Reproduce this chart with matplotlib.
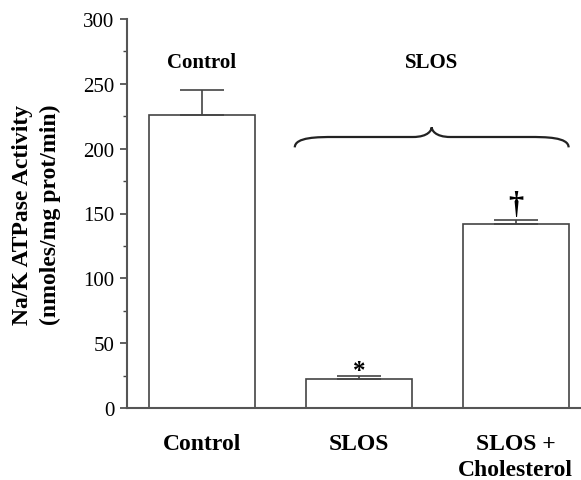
import matplotlib
matplotlib.use("Agg")
import matplotlib.pyplot as plt
from matplotlib.path import Path
from matplotlib.patches import PathPatch
import numpy as np

categories = ["Control", "SLOS", "SLOS +\nCholesterol"]
values = [226, 22, 142]
errors = [19, 2.5, 3]
marks = ["", "*", "\u2020"]
group_labels = ["Control", "SLOS"]

plt.rcParams['font.family'] = ['Liberation Serif', 'DejaVu Serif']

fig = plt.figure(figsize=(5.81, 4.81), dpi=100)
ax = fig.add_axes([127/581, (481-409)/481, (581-127)/581, (409-20)/481])

x = np.arange(len(categories))
edge = '#444444'
ax.bar(x, values, width=0.675, color='white', edgecolor=edge, linewidth=1.2, zorder=2)
ax.errorbar(x, values, yerr=[np.zeros(len(errors)), errors], fmt='none',
            ecolor=edge, elinewidth=1.2, capsize=16, capthick=1.2, zorder=3)

ax.set_xlim(-0.478, 2.417)
ax.set_ylim(0, 300)
ax.set_yticks(np.arange(0, 301, 50))
ax.set_yticks(np.arange(25, 300, 50), minor=True)
ax.tick_params(axis='y', which='major', direction='out', length=5, width=1.2,
               color=edge, labelsize=15, pad=4)
ax.tick_params(axis='y', which='minor', direction='out', length=3, width=1.0, color=edge)
ax.set_xticks(x)
ax.set_xticklabels(categories, fontsize=17, fontweight='bold', va='top', linespacing=1.3)
ax.tick_params(axis='x', length=0, pad=18)
for s in ['top', 'right']:
    ax.spines[s].set_visible(False)
for s in ['left', 'bottom']:
    ax.spines[s].set_color('#555555')
    ax.spines[s].set_linewidth(1.5)

ax.set_ylabel("Na/K ATPase Activity\n(nmoles/mg prot/min)", fontsize=17,
              fontweight='bold', linespacing=1.45, labelpad=16)

# significance marks
ax.text(x[1], values[1] + errors[1] - 4.5, marks[1], ha='center', va='bottom',
        fontsize=18, fontweight='bold')
ax.text(x[2], values[2] + errors[2] + 0.5, marks[2], ha='center', va='bottom',
        fontsize=22, fontweight='bold')

# group labels
ax.text(0, 267, group_labels[0], ha='center', va='center', fontsize=15, fontweight='bold')
ax.text(1.465, 267, group_labels[1], ha='center', va='center', fontsize=15, fontweight='bold')

# brace
x0, x1, xm = 0.592, 2.338, 1.465
yb, yh, yt = 201, 209, 216.5
verts = [(x0, yb), (x0, yh), (x0 + 0.15, yh), (x0 + 0.25, yh),
         (xm - 0.12, yh), (xm - 0.12, yh),
         (xm - 0.02, yh), (xm, yt - 2), (xm, yt),
         (xm, yt - 2), (xm + 0.02, yh), (xm + 0.12, yh),
         (x1 - 0.25, yh), (x1 - 0.25, yh),
         (x1 - 0.15, yh), (x1, yh), (x1, yb)]
codes = [Path.MOVETO, Path.CURVE4, Path.CURVE4, Path.CURVE4,
         Path.LINETO, Path.LINETO,
         Path.CURVE4, Path.CURVE4, Path.CURVE4,
         Path.CURVE4, Path.CURVE4, Path.CURVE4,
         Path.LINETO, Path.LINETO,
         Path.CURVE4, Path.CURVE4, Path.CURVE4]
ax.add_patch(PathPatch(Path(verts, codes), facecolor='none', edgecolor='#222222',
                       linewidth=1.6, clip_on=False))

fig.savefig("out.png", dpi=100)
